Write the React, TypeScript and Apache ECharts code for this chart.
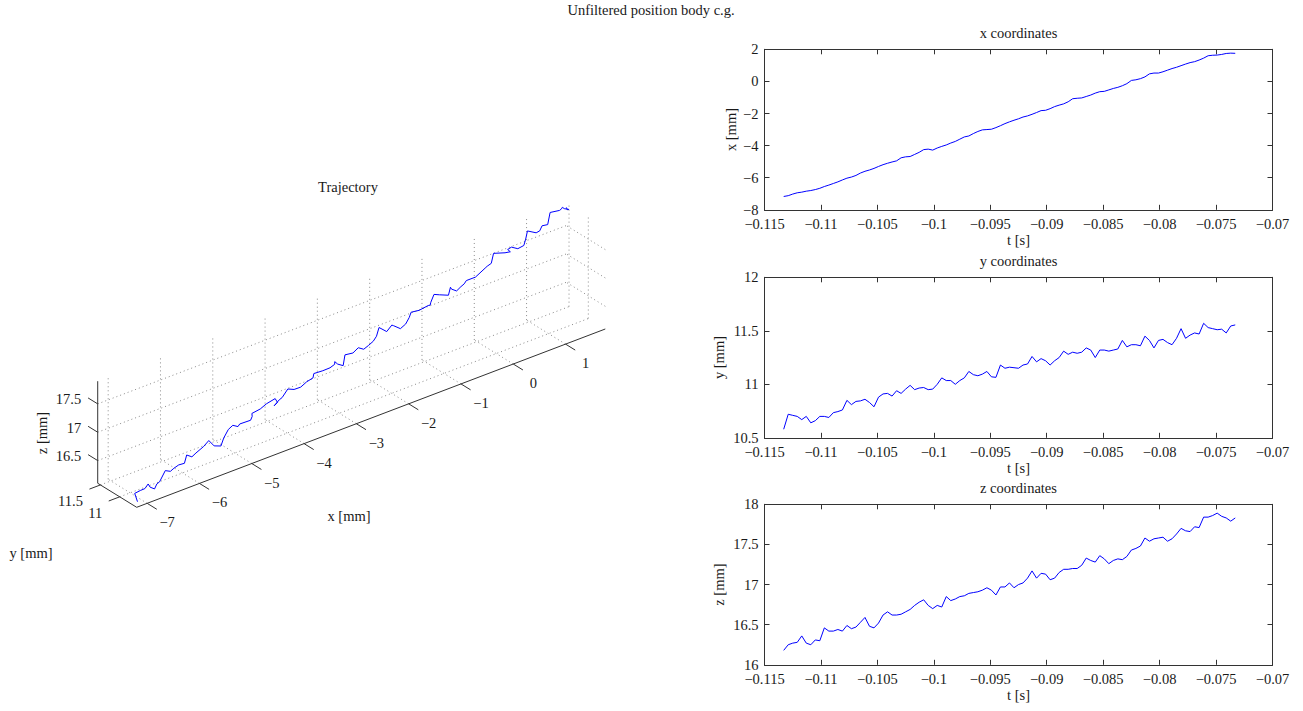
import React, { useEffect, useRef } from "react";
import * as echarts from "echarts";

// ---------------- data ----------------
const TIME_S = [
  -0.1133, -0.1129, -0.1125, -0.1121, -0.1117, -0.1113, -0.1109, -0.1105, -0.1101, -0.1097,
  -0.1093, -0.1089, -0.1085, -0.1081, -0.1077, -0.1073, -0.1069, -0.1065, -0.1061, -0.1057,
  -0.1053, -0.1049, -0.1045, -0.1041, -0.1037, -0.1033, -0.1029, -0.1025, -0.1021, -0.1017,
  -0.1013, -0.1009, -0.1005, -0.1001, -0.0997, -0.0993, -0.0989, -0.0985, -0.0981, -0.0977,
  -0.0973, -0.0969, -0.0965, -0.0961, -0.0957, -0.0953, -0.0949, -0.0945, -0.0941, -0.0937,
  -0.0933, -0.0929, -0.0925, -0.0921, -0.0917, -0.0913, -0.0909, -0.0905, -0.0901, -0.0897,
  -0.0893, -0.0889, -0.0885, -0.0881, -0.0877, -0.0873, -0.0869, -0.0865, -0.0861, -0.0857,
  -0.0853, -0.0849, -0.0845, -0.0841, -0.0837, -0.0833, -0.0829, -0.0825, -0.0821, -0.0817,
  -0.0813, -0.0809, -0.0805, -0.0801, -0.0797, -0.0793, -0.0789, -0.0785, -0.0781, -0.0777,
  -0.0773, -0.0769, -0.0765, -0.0761, -0.0757, -0.0753, -0.0749, -0.0745, -0.0741, -0.0737,
  -0.0733,
];

const X_MM = [
  -7.17, -7.12, -7.02, -6.94, -6.9, -6.84, -6.8, -6.74, -6.66, -6.55,
  -6.46, -6.36, -6.26, -6.14, -6.03, -5.96, -5.86, -5.71, -5.6, -5.52,
  -5.42, -5.3, -5.19, -5.1, -5.02, -4.95, -4.76, -4.7, -4.68, -4.55,
  -4.42, -4.25, -4.22, -4.28, -4.15, -4.05, -3.96, -3.84, -3.74, -3.6,
  -3.46, -3.4, -3.25, -3.12, -3.02, -3.0, -2.98, -2.88, -2.76, -2.63,
  -2.52, -2.42, -2.33, -2.22, -2.15, -2.05, -1.94, -1.82, -1.8, -1.7,
  -1.57, -1.48, -1.4, -1.27, -1.08, -1.05, -1.03, -0.94, -0.85, -0.73,
  -0.64, -0.62, -0.53, -0.44, -0.37, -0.27, -0.14, 0.06, 0.1, 0.17,
  0.28, 0.47, 0.52, 0.52, 0.6, 0.7, 0.8, 0.88, 0.98, 1.08,
  1.17, 1.23, 1.33, 1.45, 1.6, 1.63, 1.64, 1.68, 1.74, 1.76,
  1.75,
];

const Y_MM = [
  10.58, 10.72, 10.71, 10.7, 10.67, 10.7, 10.64, 10.66, 10.7, 10.7,
  10.69, 10.735, 10.745, 10.76, 10.85, 10.81, 10.84, 10.845, 10.86, 10.83,
  10.79, 10.88, 10.91, 10.915, 10.89, 10.94, 10.915, 10.955, 10.99, 10.95,
  10.965, 10.97, 10.95, 10.955, 11.0, 11.06, 11.035, 11.035, 11.0, 11.035,
  11.06, 11.12, 11.09, 11.08, 11.095, 11.12, 11.07, 11.065, 11.18, 11.15,
  11.16, 11.155, 11.15, 11.18, 11.19, 11.26, 11.21, 11.24, 11.22, 11.18,
  11.22, 11.25, 11.31, 11.28, 11.3, 11.29, 11.3, 11.34, 11.32, 11.25,
  11.32, 11.32, 11.31, 11.32, 11.33, 11.41, 11.35, 11.37, 11.37, 11.36,
  11.45, 11.41, 11.34, 11.41, 11.42, 11.39, 11.37, 11.43, 11.52, 11.43,
  11.46, 11.48, 11.47, 11.57, 11.53, 11.52, 11.51, 11.515, 11.48, 11.545,
  11.555,
];

const Z_MM = [
  16.18, 16.25, 16.27, 16.28, 16.36, 16.27, 16.25, 16.31, 16.3, 16.46,
  16.42, 16.42, 16.44, 16.42, 16.49, 16.45, 16.47, 16.53, 16.59, 16.48,
  16.46, 16.52, 16.62, 16.66, 16.62, 16.62, 16.63, 16.66, 16.69, 16.74,
  16.78, 16.81, 16.74, 16.7, 16.74, 16.72, 16.85, 16.8, 16.82, 16.85,
  16.86, 16.89, 16.9, 16.91, 16.93, 16.96, 16.93, 16.87, 16.97, 16.97,
  17.02, 16.96, 17.0, 17.02, 17.08, 17.17, 17.08, 17.14, 17.13, 17.06,
  17.08, 17.15, 17.19, 17.19, 17.2, 17.2, 17.24, 17.33, 17.3, 17.28,
  17.36, 17.32, 17.26, 17.3, 17.32, 17.31, 17.35, 17.43, 17.45, 17.48,
  17.58, 17.54, 17.57, 17.58, 17.59, 17.54, 17.57, 17.63, 17.7, 17.67,
  17.66, 17.72, 17.71, 17.84, 17.84, 17.86, 17.89, 17.85, 17.83, 17.79,
  17.83,
];

// 2D axes
const T_RANGE = [-0.115, -0.07];
const T_STEP = 0.005;
const X_RANGE = [-8, 2];
const X_STEP = 2;
const Y_RANGE = [10.5, 12];
const Y_STEP = 0.5;
const Z_RANGE = [16, 18];
const Z_STEP = 0.5;

// 3D axes
const X3_TICKS = [-7, -6, -5, -4, -3, -2, -1, 0, 1];
const Y3_TICKS = [11, 11.5];
const Z3_TICKS = [16.5, 17, 17.5];
const X3_LIM = [-7.2, 1.76];
const Y3_LIM = [10.56, 11.57];
const Z3_LIM = [16.1, 17.9];

const MAIN_TITLE = "Unfiltered position body c.g.";
const PANEL_TITLES = ["x coordinates", "y coordinates", "z coordinates"];
const PANEL_YNAMES = ["x [mm]", "y [mm]", "z [mm]"];
const T_NAME = "t [s]";

// ---------------- layout / style ----------------
const W = 1303;
const H = 711;
const FONT = "'Liberation Serif', 'Times New Roman', serif";
const FS = 14.5;
const INK = "#333333";
const TXT = "#1a1a1a";
const BLUE = "#0000ff";

const PLOT_LEFT = 764.5;
const PLOT_W = 508;
const PLOT_TOPS = [49.3, 277.3, 504.3];
const PLOT_H = 160.5;
const YNAME_GAPS = [26, 38, 38];

// orthographic projection of the 3D box onto the page
const ORIGIN = [136.7, 507.3];
const EX = [52.3, -19.9];
const EY = [-38.6, -23.8];
const EZ = [0, -56.7];

function project(x: number, y: number, z: number): number[] {
  const dx = x - X3_LIM[0];
  const dy = y - Y3_LIM[0];
  const dz = z - Z3_LIM[0];
  return [
    ORIGIN[0] + EX[0] * dx + EY[0] * dy + EZ[0] * dz,
    ORIGIN[1] + EX[1] * dx + EY[1] * dy + EZ[1] * dz,
  ];
}

function fmt(v: number): string {
  const r = Math.round(v * 10000) / 10000;
  return r < 0 ? "\u2212" + String(-r) : String(r);
}

function buildOption() {
  const [x0, x1] = X3_LIM;
  const [y0, y1] = Y3_LIM;
  const [z0, z1] = Z3_LIM;

  const gridSegs: number[][] = [];
  X3_TICKS.forEach((v) => {
    gridSegs.push([v, y1, z0, v, y1, z1]); // back wall
    gridSegs.push([v, y0, z0, v, y1, z0]); // floor
  });
  Z3_TICKS.forEach((v) => {
    gridSegs.push([x0, y1, v, x1, y1, v]); // back wall
    gridSegs.push([x1, y0, v, x1, y1, v]); // side wall
  });
  Y3_TICKS.forEach((v) => {
    gridSegs.push([x0, v, z0, x1, v, z0]); // floor
    gridSegs.push([x1, v, z0, x1, v, z1]); // side wall
  });

  const axisSegs: number[][] = [
    [x0, y0, z0, x1, y0, z0],
    [x0, y0, z0, x0, y1, z0],
    [x0, y1, z0, x0, y1, z1],
  ];
  X3_TICKS.forEach((v) => axisSegs.push([v, y0, z0, v, y0 - 0.25, z0]));
  Y3_TICKS.forEach((v) => axisSegs.push([x0, v, z0, x0 - 0.21, v, z0]));
  Z3_TICKS.forEach((v) => axisSegs.push([x0, y1, v, x0, y1 + 0.25, v]));

  const traj = TIME_S.map((_, i) => project(X_MM[i], Y_MM[i], Z_MM[i]));

  const segRender = (stroke: string, dash: number[] | null) => (params: any, api: any) => {
    const a = api.coord(project(api.value(0), api.value(1), api.value(2)));
    const b = api.coord(project(api.value(3), api.value(4), api.value(5)));
    return {
      type: "line",
      silent: true,
      shape: { x1: a[0], y1: a[1], x2: b[0], y2: b[1] },
      style: { stroke, lineWidth: 1, lineDash: dash || undefined, fill: null },
    };
  };

  const labelRender = (anchor: (v: number) => number[], dx: number, dy: number, align: string) =>
    (params: any, api: any) => {
      const v = api.value(0);
      const p = api.coord(anchor(v));
      return {
        type: "text",
        silent: true,
        x: p[0] + dx,
        y: p[1] + dy,
        style: {
          text: fmt(v),
          fill: TXT,
          fontSize: FS,
          fontFamily: FONT,
          align,
          verticalAlign: "middle",
        },
      };
    };

  const ranges = [
    [X_RANGE, X_STEP, X_MM],
    [Y_RANGE, Y_STEP, Y_MM],
    [Z_RANGE, Z_STEP, Z_MM],
  ] as any[];

  const grids: any[] = [];
  const xAxes: any[] = [];
  const yAxes: any[] = [];
  const series: any[] = [];

  const axisCommon = {
    type: "value",
    axisLine: { show: true, onZero: false, lineStyle: { color: INK, width: 1 } },
    axisTick: { show: true, inside: true, length: 5, lineStyle: { color: INK, width: 1 } },
    splitLine: { show: false },
  };
  const labelStyle = {
    color: TXT,
    fontFamily: FONT,
    fontSize: FS,
    formatter: (v: number) => fmt(v),
  };
  const nameStyle = { color: TXT, fontFamily: FONT, fontSize: FS };

  ranges.forEach(([rng, step, vals], k) => {
    grids.push({ left: PLOT_LEFT, top: PLOT_TOPS[k], width: PLOT_W, height: PLOT_H });
    xAxes.push({
      ...axisCommon,
      gridIndex: k,
      position: "bottom",
      min: T_RANGE[0],
      max: T_RANGE[1],
      interval: T_STEP,
      axisLabel: { ...labelStyle, margin: 7, showMinLabel: true, showMaxLabel: true },
      name: T_NAME,
      nameLocation: "middle",
      nameGap: 23,
      nameTextStyle: nameStyle,
    });
    xAxes.push({
      ...axisCommon,
      gridIndex: k,
      position: "top",
      min: T_RANGE[0],
      max: T_RANGE[1],
      interval: T_STEP,
      axisLabel: { show: false },
    });
    yAxes.push({
      ...axisCommon,
      gridIndex: k,
      position: "left",
      min: rng[0],
      max: rng[1],
      interval: step,
      axisLabel: { ...labelStyle, margin: 6, showMinLabel: true, showMaxLabel: true },
      name: PANEL_YNAMES[k],
      nameLocation: "middle",
      nameGap: YNAME_GAPS[k],
      nameTextStyle: nameStyle,
    });
    yAxes.push({
      ...axisCommon,
      gridIndex: k,
      position: "right",
      min: rng[0],
      max: rng[1],
      interval: step,
      axisLabel: { show: false },
    });
    series.push({
      type: "line",
      xAxisIndex: 2 * k,
      yAxisIndex: 2 * k,
      data: TIME_S.map((t, i) => [t, vals[i]]),
      showSymbol: false,
      symbol: "none",
      lineStyle: { color: BLUE, width: 1 },
      silent: true,
    });
  });

  // hidden page-sized cartesian for the projected 3D panel
  grids.push({ left: 0, top: 0, width: W, height: H });
  xAxes.push({ type: "value", gridIndex: 3, min: 0, max: W, show: false });
  yAxes.push({ type: "value", gridIndex: 3, min: 0, max: H, inverse: true, show: false });
  const hid = { coordinateSystem: "cartesian2d", xAxisIndex: 6, yAxisIndex: 6, silent: true };

  series.push({ ...hid, type: "custom", data: gridSegs, renderItem: segRender("#8a8a8a", [1, 3]), z: 1 });
  series.push({ ...hid, type: "custom", data: axisSegs, renderItem: segRender(INK, null), z: 2 });
  series.push({
    ...hid,
    type: "line",
    data: traj,
    showSymbol: false,
    symbol: "none",
    lineStyle: { color: BLUE, width: 1 },
    z: 3,
  });
  series.push({
    ...hid,
    type: "custom",
    data: X3_TICKS.map((v) => [v]),
    renderItem: labelRender((v) => project(v, y0, z0), 20, 19, "center"),
    z: 4,
  });
  series.push({
    ...hid,
    type: "custom",
    data: Y3_TICKS.map((v) => [v]),
    renderItem: labelRender((v) => project(x0, v, z0), -17.5, 16.5, "right"),
    z: 4,
  });
  series.push({
    ...hid,
    type: "custom",
    data: Z3_TICKS.map((v) => [v]),
    renderItem: labelRender((v) => project(x0, y1, v), -16.5, -4.7, "right"),
    z: 4,
  });

  const txt = (text: string, x: number, y: number, extra: any = {}) => ({
    type: "text",
    x,
    y,
    silent: true,
    ...extra,
    style: {
      text,
      fill: TXT,
      fontSize: FS,
      fontFamily: FONT,
      align: "center",
      verticalAlign: "middle",
    },
  });

  const graphic = [
    txt(MAIN_TITLE, 651, 10),
    txt(PANEL_TITLES[0], PLOT_LEFT + PLOT_W / 2, 33),
    txt(PANEL_TITLES[1], PLOT_LEFT + PLOT_W / 2, 261),
    txt(PANEL_TITLES[2], PLOT_LEFT + PLOT_W / 2, 488),
    txt("Trajectory", 348, 187),
    txt("x [mm]", 349, 516),
    txt("y [mm]", 31, 553),
    txt("z [mm]", 42, 433, { rotation: Math.PI / 2 }),
  ];

  return {
    animation: false,
    backgroundColor: "#ffffff",
    grid: grids,
    xAxis: xAxes,
    yAxis: yAxes,
    series,
    graphic,
  };
}

export default function App() {
  const ref = useRef<HTMLDivElement>(null);
  useEffect(() => {
    document.body.style.margin = "0";
    if (!ref.current) return;
    const chart = echarts.init(ref.current, undefined, { renderer: "svg" });
    chart.setOption(buildOption() as any);
    return () => chart.dispose();
  }, []);
  return <div ref={ref} style={{ width: W, height: H, background: "#fff" }} />;
}
